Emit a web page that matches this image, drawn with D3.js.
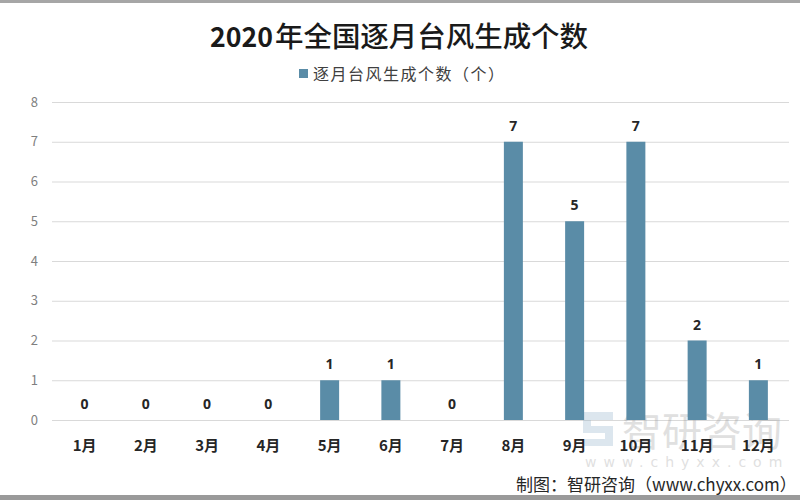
<!DOCTYPE html>
<html>
<head>
<meta charset="utf-8">
<script src="https://cdn.jsdelivr.net/npm/d3@7"></script>
<style>
body { margin: 0; background: #fff; }
</style>
</head>
<body>
<script>
// data
var months = ["1月","2月","3月","4月","5月","6月","7月","8月","9月","10月","11月","12月"];
var counts = [0, 0, 0, 0, 1, 1, 0, 7, 5, 7, 2, 1];
var yTicks = [0, 1, 2, 3, 4, 5, 6, 7, 8];

function drawChart() {
	var w = 800, h = 500;
	var plotLeft = 54, plotRight = 789, plotTop = 102, plotBottom = 420;
	var barColor = "#5a8ca7";
	var font = "'Noto Sans CJK SC', 'Noto Sans', sans-serif";

	var svg = d3.select("body").append("svg")
		.attr("width", w)
		.attr("height", h);

	svg.append("rect").attr("width", w).attr("height", h).attr("fill", "#fff");

	// frame bits
	svg.append("rect").attr("x", 0).attr("y", 0).attr("width", w).attr("height", 3).attr("fill", "#a6a6a6");
	svg.append("rect").attr("x", 0).attr("y", 495).attr("width", w).attr("height", 5).attr("fill", "#9a9a9a");

	var x = d3.scaleBand().domain(months).range([plotLeft, plotRight]).paddingInner(0.69).paddingOuter(0.345);
	var y = d3.scaleLinear().domain([0, 8]).range([plotBottom, plotTop]);

	// gridlines
	svg.append("g").selectAll("line").data(yTicks).enter().append("line")
		.attr("x1", 52).attr("x2", plotRight)
		.attr("y1", function(d) { return y(d) + 0.5; })
		.attr("y2", function(d) { return y(d) + 0.5; })
		.attr("stroke", "#d9d9d9").attr("stroke-width", 1);

	// y axis labels
	var yAxis = d3.axisLeft(y).tickValues(yTicks).tickSize(0).tickPadding(0);
	var ga = svg.append("g").attr("transform", "translate(38,0)").call(yAxis);
	ga.select(".domain").remove();
	ga.selectAll("text").attr("fill", "#7f7f7f").attr("font-size", "13px").attr("font-family", font);

	// watermark
	var wm = svg.append("g").attr("opacity", 0.3);
	wm.append("path")
		.attr("d", "M583,412 h30 v8 h-22 v6 h22 v20 h-30 v-7 h22 v-6 h-22 z")
		.attr("fill", "#8fb0c8");
	wm.append("text").attr("x", 622).attr("y", 446).text("智研咨询")
		.attr("font-size", "40px").attr("font-family", font).attr("fill", "#9a9a9a");
	wm.append("text").attr("x", 585).attr("y", 467).text("www.chyxx.com")
		.attr("font-size", "14px").attr("letter-spacing", "7px")
		.attr("font-family", "'DejaVu Sans', sans-serif").attr("fill", "#9a9a9a");

	// bars
	svg.append("g").selectAll("rect").data(counts).enter().append("rect")
		.attr("x", function(d, i) { return x(months[i]); })
		.attr("y", function(d) { return y(d); })
		.attr("width", x.bandwidth())
		.attr("height", function(d) { return plotBottom - y(d); })
		.attr("fill", barColor);

	// value labels
	svg.append("g").selectAll("text").data(counts).enter().append("text")
		.attr("x", function(d, i) { return x(months[i]) + x.bandwidth() / 2; })
		.attr("y", function(d) { return y(d) - 11; })
		.attr("text-anchor", "middle")
		.attr("font-size", "14px").attr("font-weight", "bold")
		.attr("font-family", "'Open Sans', 'Noto Sans', sans-serif")
		.attr("fill", "#262626")
		.text(function(d) { return d; });

	// x axis labels
	var xAxis = d3.axisBottom(x).tickSize(0).tickPadding(0);
	var gx = svg.append("g").attr("transform", "translate(0,440)").call(xAxis);
	gx.select(".domain").remove();
	gx.selectAll("text").attr("fill", "#262626").attr("font-size", "15px")
		.attr("font-weight", "bold").attr("font-family", font);

	// title (digits bold, hanzi wide and regular)
	svg.append("text").attr("x", 210).attr("y", 47)
		.attr("font-family", font).attr("fill", "#1a1a1a")
		.attr("font-size", "27px").attr("font-weight", "bold")
		.attr("textLength", 63).attr("lengthAdjust", "spacingAndGlyphs")
		.text("2020");
	svg.append("text").attr("x", 275).attr("y", 47)
		.attr("font-family", font).attr("fill", "#1a1a1a")
		.attr("font-size", "28px").attr("font-weight", "500")
		.attr("textLength", 313).attr("lengthAdjust", "spacingAndGlyphs")
		.text("年全国逐月台风生成个数");

	// legend
	svg.append("rect").attr("x", 299).attr("y", 69).attr("width", 9).attr("height", 9).attr("fill", barColor);
	svg.append("text").attr("x", 313).attr("y", 80)
		.attr("font-size", "16px").attr("letter-spacing", "1.5px")
		.attr("font-family", font).attr("fill", "#404040")
		.text("逐月台风生成个数（个）");

	// source
	svg.append("text").attr("x", 516).attr("y", 491)
		.attr("font-size", "17px").attr("font-family", font).attr("fill", "#262626")
		.text("制图：智研咨询（www.chyxx.com）");
}

drawChart();
</script>
</body>
</html>
